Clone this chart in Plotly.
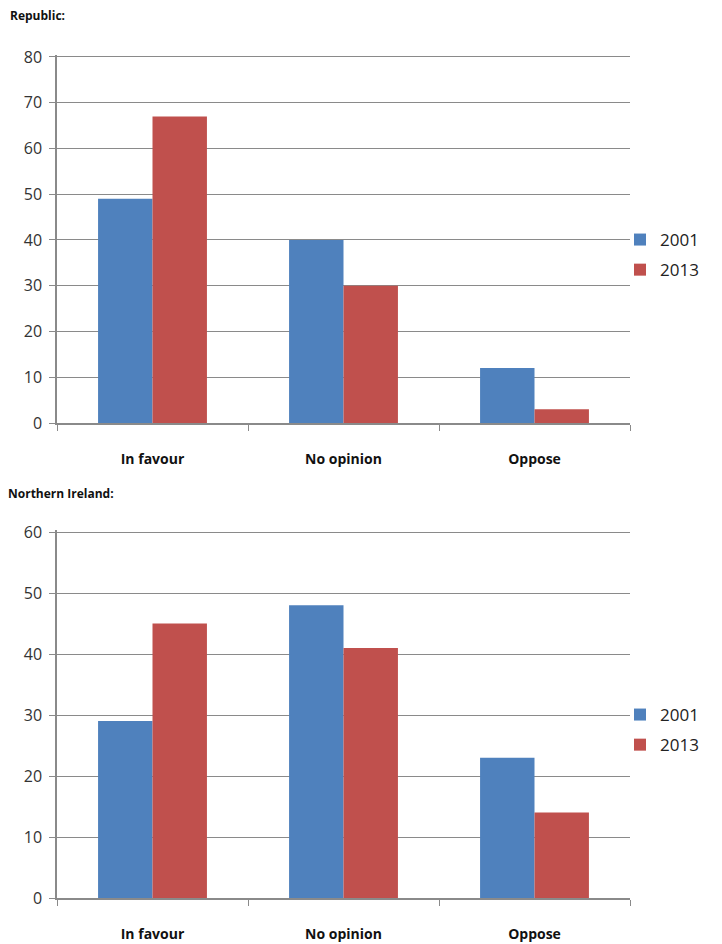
import plotly.graph_objects as go

categories = ["In favour", "No opinion", "Oppose"]
years = ["2001", "2013"]
republic_2001 = [49, 40, 12]
republic_2013 = [67, 30, 3]
ni_2001 = [29, 48, 23]
ni_2013 = [45, 41, 14]
colors = ["#4F81BD", "#C0504D"]

W, H = 722, 944
fig = go.Figure()

def px_y(a, b):
    return [1 - b / H, 1 - a / H]

for i, (vals, yr) in enumerate(zip([republic_2001, republic_2013], years)):
    fig.add_trace(go.Bar(x=categories, y=vals, name=yr, marker_color=colors[i],
                         marker_line_width=0, xaxis="x", yaxis="y",
                         legend="legend", legendgroup="a" + yr))
for i, (vals, yr) in enumerate(zip([ni_2001, ni_2013], years)):
    fig.add_trace(go.Bar(x=categories, y=vals, name=yr, marker_color=colors[i],
                         marker_line_width=0, xaxis="x2", yaxis="y2",
                         legend="legend2", legendgroup="b" + yr))

grid = "#8a8a8a"
axis_common = dict(showline=True, linecolor=grid, linewidth=1.5, ticks="outside",
                   ticklen=6, tickcolor=grid, automargin=False)
xcommon = dict(axis_common, domain=[57 / W, 630 / W], tickson="boundaries",
               tickfont=dict(family="Open Sans", size=14, color="#111"),
               ticklabelstandoff=22)
ycommon = dict(axis_common, showgrid=True, gridcolor=grid, gridwidth=1.2,
               tickfont=dict(family="Open Sans", size=16, color="#333"),
               zeroline=False, ticklabelstandoff=4, tick0=0)

fig.update_layout(
    width=W, height=H, margin=dict(l=0, r=0, t=0, b=0),
    plot_bgcolor="white", paper_bgcolor="white",
    barmode="group", bargap=0.43, bargroupgap=0,
    xaxis=dict(xcommon, anchor="y"),
    yaxis=dict(ycommon, domain=px_y(54.7, 423), range=[0, 80.5], dtick=10, anchor="x"),
    xaxis2=dict(xcommon, anchor="y2"),
    yaxis2=dict(ycommon, domain=px_y(529.6, 898), range=[0, 60.4], dtick=10, anchor="x2"),
    legend=dict(x=620 / W, y=1 - 222 / H, xanchor="left", yanchor="top",
                font=dict(family="Open Sans", size=17, color="#222"),
                tracegroupgap=5, bgcolor="rgba(0,0,0,0)"),
    legend2=dict(x=620 / W, y=1 - 697 / H, xanchor="left", yanchor="top",
                 font=dict(family="Open Sans", size=17, color="#222"),
                 tracegroupgap=5, bgcolor="rgba(0,0,0,0)"),
    annotations=[
        dict(text="<b>Republic:</b>", x=8 / W, y=1 - 15 / H, xref="paper", yref="paper",
             xanchor="left", yanchor="middle", showarrow=False,
             font=dict(family="Open Sans", size=12, color="#111")),
        dict(text="<b>Northern Ireland:</b>", x=6 / W, y=1 - 493 / H, xref="paper", yref="paper",
             xanchor="left", yanchor="middle", showarrow=False,
             font=dict(family="Open Sans", size=12, color="#111")),
    ],
)
fig.for_each_xaxis(lambda a: a.update(ticktext=["<b>" + c + "</b>" for c in categories],
                                       tickvals=categories, tickmode="array"))
fig.write_html("out.html")
